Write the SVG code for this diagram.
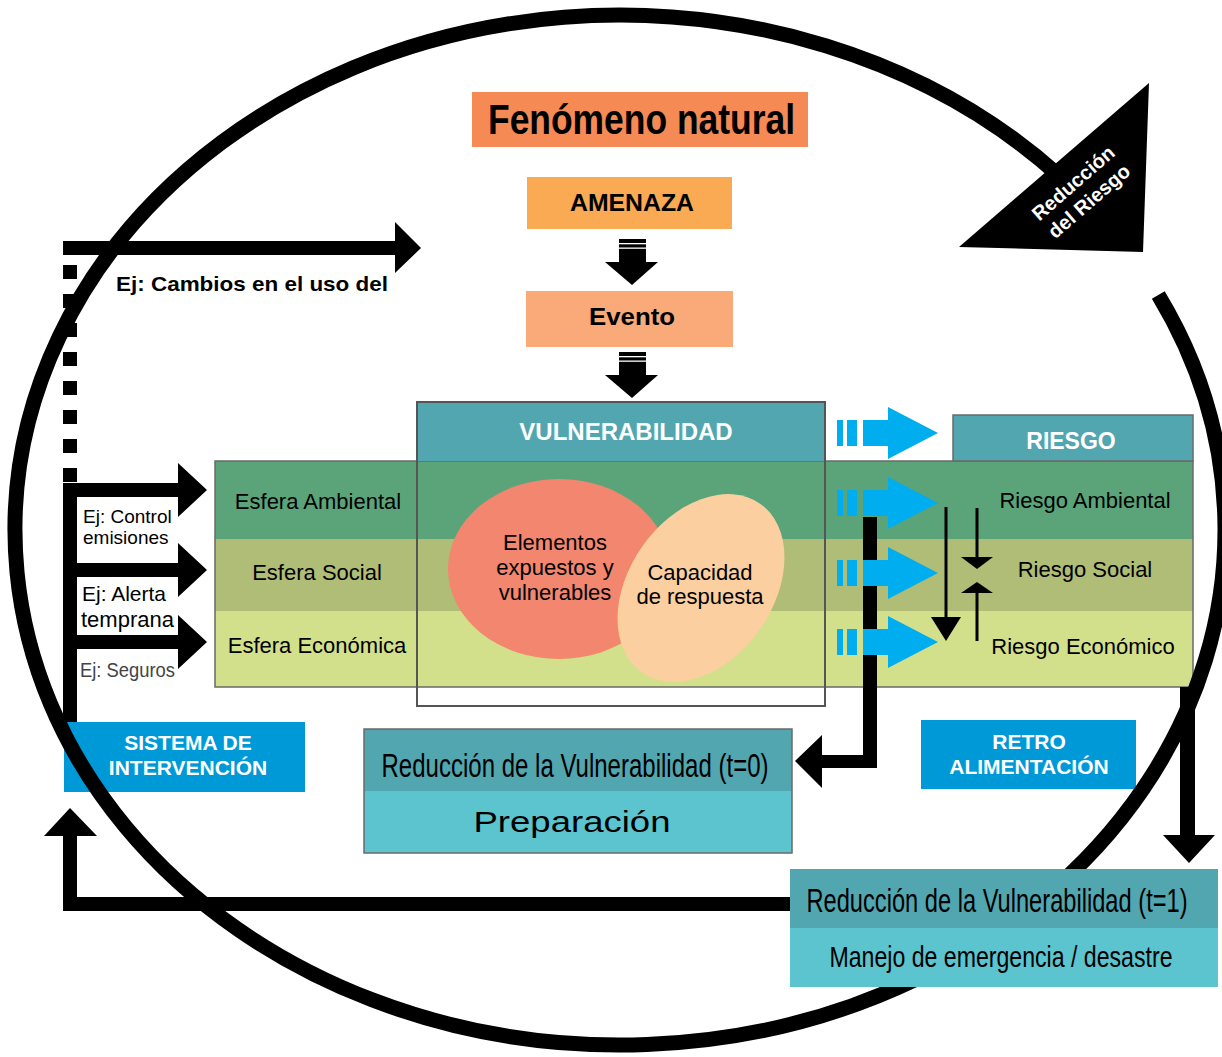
<svg xmlns="http://www.w3.org/2000/svg" width="1222" height="1057" viewBox="0 0 1222 1057">
<defs>
<style>
text{font-family:"Liberation Sans",Arial,sans-serif;fill:#000}
.b{font-weight:bold}
.c{text-anchor:middle}
.w{fill:#fff}
.hdr{fill:#52A6B0}
.lt{fill:#5BC4CF}
.blue{fill:#0099D8}
.edge{stroke:#6a6a6a;stroke-width:1.5}
.thin{stroke:#000;stroke-width:3;fill:none}
.cyan{fill:#00AEEF}
</style>
<!-- cyan block arrow, centred on y=0 -->
<g id="cyanArrow" class="cyan">
<rect x="837" y="-13" width="6" height="26"/>
<rect x="847" y="-13" width="10" height="26"/>
<polygon points="863,-13 888,-13 888,-26 938,0 888,26 888,13 863,13"/>
</g>
<!-- black striped down arrow, top at y=0 -->
<g id="downArrow">
<rect x="619" y="0" width="27" height="24" fill="#000"/>
<rect x="619" y="4" width="27" height="1.3" fill="#fff"/>
<rect x="619" y="8.5" width="27" height="1.3" fill="#fff"/>
<polygon points="605,23 658,23 632,46" fill="#000"/>
</g>
<!-- black side arrow into a sphere band, centred on y=0 -->
<polygon id="sideArrow" points="70,-7 178,-7 178,-27 207,0 178,27 178,7 70,7"/>
</defs>

<rect width="1222" height="1057" fill="#fff"/>

<!-- spheres and risk rows -->
<g id="esferas">
<rect x="215" y="461" width="978" height="78" fill="#5BA47A"/>
<rect x="215" y="539" width="978" height="72" fill="#AFBD77"/>
<rect x="215" y="611" width="978" height="76" fill="#D3E08B"/>
<rect x="215" y="461" width="978" height="226" fill="none" class="edge"/>
<line x1="417" y1="461" x2="417" y2="687" class="edge"/>
<text x="318" y="509" class="c" font-size="22">Esfera Ambiental</text>
<text x="317" y="580" class="c" font-size="22">Esfera Social</text>
<text x="317" y="653" class="c" font-size="22">Esfera Económica</text>
</g>

<g id="riesgo">
<rect x="953" y="415" width="240" height="46" class="hdr edge"/>
<text x="1071" y="449" class="c b w" font-size="23">RIESGO</text>
<text x="1085" y="508" class="c" font-size="22">Riesgo Ambiental</text>
<text x="1085" y="577" class="c" font-size="22">Riesgo Social</text>
<text x="1083" y="654" class="c" font-size="22">Riesgo Económico</text>
</g>

<g id="elementos">
<ellipse cx="559" cy="569" rx="111" ry="90" fill="#F2866E"/>
<text x="555" y="550" class="c" font-size="22">Elementos</text>
<text x="555" y="575" class="c" font-size="22">expuestos y</text>
<text x="555" y="600" class="c" font-size="22">vulnerables</text>
</g>

<g id="capacidad">
<ellipse cx="0" cy="0" rx="103" ry="72" fill="#FBCF9F" transform="translate(701 588) rotate(-55)"/>
<text x="700" y="580" class="c" font-size="22">Capacidad</text>
<text x="700" y="604" class="c" font-size="22">de respuesta</text>
</g>

<g id="vulnerabilidad">
<rect x="417" y="402" width="408" height="59" class="hdr"/>
<rect x="417" y="402" width="408" height="304" fill="none" stroke="#555" stroke-width="2"/>
<text x="626" y="440" class="c b w" font-size="24">VULNERABILIDAD</text>
</g>

<g id="fenomeno">
<rect x="472" y="92" width="336" height="55" fill="#F58A55"/>
<text x="641.5" y="134" class="c b" font-size="42" textLength="307" lengthAdjust="spacingAndGlyphs">Fenómeno natural</text>
</g>

<g id="amenaza">
<rect x="527" y="177" width="205" height="52" fill="#F9AA53"/>
<text x="632" y="211" class="c b" font-size="24" textLength="124" lengthAdjust="spacingAndGlyphs">AMENAZA</text>
</g>

<g id="evento">
<rect x="526" y="291" width="207" height="56" fill="#FAAA78"/>
<text x="632" y="325" class="c b" font-size="23" textLength="86" lengthAdjust="spacingAndGlyphs">Evento</text>
</g>

<g id="sistema">
<rect x="64" y="722" width="241" height="70" class="blue"/>
<text x="188" y="750" class="c b w" font-size="21">SISTEMA DE</text>
<text x="188" y="775" class="c b w" font-size="21">INTERVENCIÓN</text>
</g>

<g id="retro">
<rect x="921" y="720" width="215" height="69" class="blue"/>
<text x="1029" y="749" class="c b w" font-size="21">RETRO</text>
<text x="1029" y="774" class="c b w" font-size="21">ALIMENTACIÓN</text>
</g>

<g id="preparacion">
<rect x="364" y="729" width="428" height="62" class="hdr"/>
<rect x="364" y="791" width="428" height="62" class="lt"/>
<rect x="364" y="729" width="428" height="124" fill="none" class="edge" stroke-width="1"/>
<text class="c" font-size="33" transform="translate(575 777) scale(0.728 1)">Reducción de la Vulnerabilidad (t=0)</text>
<text x="572" y="832" class="c" font-size="30" textLength="197" lengthAdjust="spacingAndGlyphs">Preparación</text>
</g>

<!-- connectors -->
<g id="connectors">
<!-- risk-reduction cycle -->
<path d="M1158.3 295 A605 515 0 1 1 1060 176.6" fill="none" stroke="#000" stroke-width="15"/>
<polygon points="959,247 1149,83 1143,252" fill="#000"/>
<g transform="translate(1081 192) rotate(-41)">
<text x="0" y="-5" class="c b w" font-size="20">Reducción</text>
<text x="0" y="19" class="c b w" font-size="20">del Riesgo</text>
</g>

<!-- hazard chain -->
<use href="#downArrow" y="239"/>
<use href="#downArrow" y="352"/>

<!-- intervention system on the left -->
<g fill="#000">
<rect x="63" y="241" width="332" height="14"/>
<polygon points="395,222 421,248 395,273"/>
<rect x="63" y="265" width="14" height="14"/>
<rect x="63" y="294" width="14" height="14"/>
<rect x="63" y="323" width="14" height="14"/>
<rect x="63" y="352" width="14" height="14"/>
<rect x="63" y="381" width="14" height="14"/>
<rect x="63" y="410" width="14" height="14"/>
<rect x="63" y="439" width="14" height="14"/>
<rect x="63" y="468" width="14" height="14"/>
<rect x="63" y="483" width="14" height="239"/>
<use href="#sideArrow" y="490"/>
<use href="#sideArrow" y="570"/>
<use href="#sideArrow" y="642"/>
<!-- return path from t=1 -->
<rect x="63" y="897" width="727" height="14"/>
<rect x="63" y="836" width="14" height="75"/>
<polygon points="44,836 97,836 70,808"/>
<!-- feedback to t=0 -->
<rect x="863" y="517" width="14" height="251"/>
<rect x="820" y="755" width="57" height="13"/>
<polygon points="822,735 822,788 795,761"/>
<!-- down to t=1 -->
<rect x="1180" y="687" width="15" height="148"/>
<polygon points="1163,835 1215,835 1189,863"/>
</g>

<!-- vulnerability to risk -->
<use href="#cyanArrow" y="433"/>
<use href="#cyanArrow" y="503"/>
<use href="#cyanArrow" y="573"/>
<use href="#cyanArrow" y="642"/>

<!-- interaction between risks -->
<line x1="946" y1="507" x2="946" y2="618" class="thin"/>
<polygon points="931,617 961,617 946,641" fill="#000"/>
<line x1="977" y1="508" x2="977" y2="558" class="thin"/>
<polygon points="961,557 993,557 977,569" fill="#000"/>
<line x1="977" y1="641" x2="977" y2="592" class="thin"/>
<polygon points="961,593 993,593 977,582" fill="#000"/>
</g>

<g id="emergencia">
<rect x="790" y="869" width="428" height="59" class="hdr"/>
<rect x="790" y="928" width="428" height="59" class="lt"/>
<text class="c" font-size="33" transform="translate(997 912) scale(0.717 1)">Reducción de la Vulnerabilidad (t=1)</text>
<text class="c" font-size="29" transform="translate(1001 967) scale(0.797 1)">Manejo de emergencia / desastre</text>
</g>

<!-- examples -->
<g id="ejemplos">
<text x="116" y="291" class="b" font-size="21" textLength="272" lengthAdjust="spacingAndGlyphs">Ej: Cambios en el uso del</text>
<text x="83" y="523" font-size="19">Ej: Control</text>
<text x="83" y="544" font-size="19">emisiones</text>
<text x="82" y="601" font-size="21">Ej: Alerta</text>
<text x="81" y="627" font-size="22">temprana</text>
<text x="80" y="677" font-size="21" style="fill:#444" textLength="95" lengthAdjust="spacingAndGlyphs">Ej: Seguros</text>
</g>
</svg>
